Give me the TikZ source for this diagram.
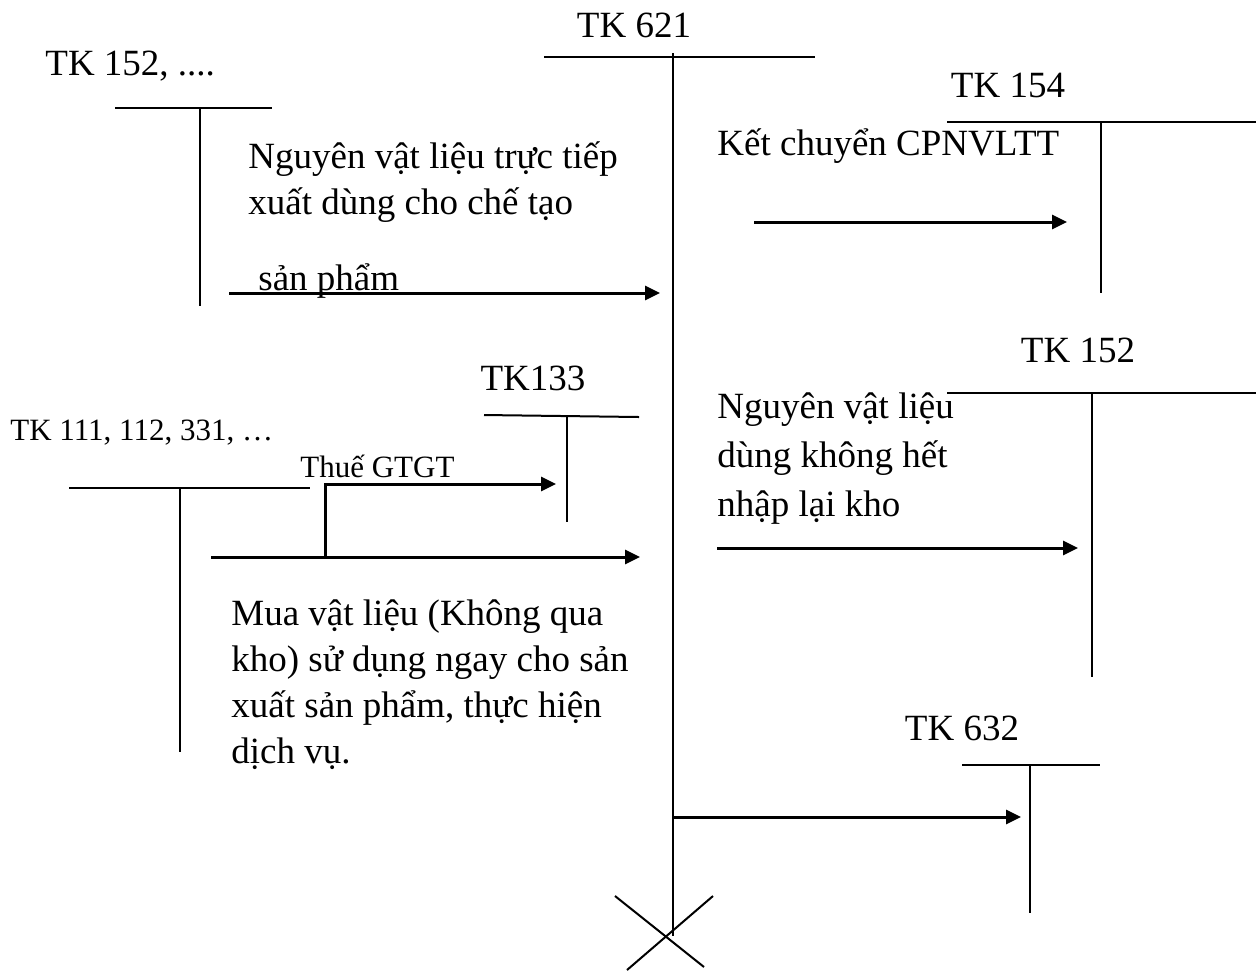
\documentclass[tikz,border=0pt]{standalone}
\usepackage{fontspec}
\setmainfont{Liberation Serif}
\usetikzlibrary{arrows.meta,positioning}

\begin{document}
\begin{tikzpicture}[x=0.5pt, y=-0.5pt,
    acc/.style={font=\fontsize{18.5}{23}\selectfont, inner sep=0pt, anchor=base},
    txt/.style={font=\fontsize{18.5}{23}\selectfont, inner sep=0pt, anchor=base west, align=left},
    small/.style={font=\fontsize{15.5}{19}\selectfont, inner sep=0pt, anchor=base west},
    tline/.style={line width=1pt},
    flow/.style={line width=1.5pt, -{Triangle[length=7.5pt, width=7pt]}}]
    \useasboundingbox (0,0) rectangle (1256,970);

    % TK 621
    \node (tk621) [acc] at (634,37) {TK 621};
    \coordinate (tk621l) at (544,57);
    \coordinate (tk621r) at (815,57);
    \coordinate (tk621t) at (673,53);
    \coordinate (tk621b) at (673,936);
    \coordinate (cross) at (666,936);
    \draw[tline] (tk621l) -- (tk621r);
    \draw[tline] (tk621t) -- (tk621b);
    \draw[tline] (cross) +(-51,-40) -- +(38,31);
    \draw[tline] (cross) +(47,-40) -- +(-39,34);

    % TK 152, ....
    \node (tk152a) [txt] at (45,75) {TK 152, ....};
    \coordinate (tk152al) at (115,108);
    \coordinate (tk152ar) at (272,108);
    \coordinate (tk152at) at (200,108);
    \coordinate (tk152ab) at (200,306);
    \draw[tline] (tk152al) -- (tk152ar);
    \draw[tline] (tk152at) -- (tk152ab);

    % TK 154
    \node (tk154) [acc] at (1008,97) {TK 154};
    \coordinate (tk154l) at (947,122);
    \coordinate (tk154r) at (1256,122);
    \coordinate (tk154t) at (1101,122);
    \coordinate (tk154b) at (1101,293);
    \draw[tline] (tk154l) -- (tk154r);
    \draw[tline] (tk154t) -- (tk154b);

    % TK 152
    \node (tk152b) [acc] at (1078,362) {TK 152};
    \coordinate (tk152bl) at (947,393);
    \coordinate (tk152br) at (1256,393);
    \coordinate (tk152bt) at (1092,393);
    \coordinate (tk152bb) at (1092,677);
    \draw[tline] (tk152bl) -- (tk152br);
    \draw[tline] (tk152bt) -- (tk152bb);

    % TK133
    \node (tk133) [acc] at (533,390) {TK133};
    \coordinate (tk133l) at (484,415);
    \coordinate (tk133r) at (639,417);
    \coordinate (tk133t) at (567,415);
    \coordinate (tk133b) at (567,522);
    \draw[tline] (tk133l) -- (tk133r);
    \draw[tline] (tk133t) -- (tk133b);

    % TK 111, 112, 331, ...
    \node (tk111) [small] at (10,440) {TK 111, 112, 331, …};
    \coordinate (tk111l) at (69,488);
    \coordinate (tk111r) at (310,488);
    \coordinate (tk111t) at (180,488);
    \coordinate (tk111b) at (180,752);
    \draw[tline] (tk111l) -- (tk111r);
    \draw[tline] (tk111t) -- (tk111b);

    % TK 632
    \node (tk632) [acc] at (962,740) {TK 632};
    \coordinate (tk632l) at (962,765);
    \coordinate (tk632r) at (1100,765);
    \coordinate (tk632t) at (1030,765);
    \coordinate (tk632b) at (1030,913);
    \draw[tline] (tk632l) -- (tk632r);
    \draw[tline] (tk632t) -- (tk632b);

    % labels (base = last line)
    \node (nvl) [txt] at (248,290) {Nguyên vật liệu trực tiếp\\xuất dùng cho chế tạo\\[15pt]\hspace{5pt}sản phẩm};
    \node (kc) [txt] at (717,155) {Kết chuyển CPNVLTT};
    \node (nhap) [txt, font=\fontsize{18.5}{24.5}\selectfont] at (717,516) {Nguyên vật liệu\\dùng không hết\\nhập lại kho};
    \node (vat) [small] at (300,477) {Thuế GTGT};
    \node (mua) [txt] at (231,763) {Mua vật liệu (Không qua\\kho) sử dụng ngay cho sản\\xuất sản phẩm, thực hiện\\dịch vụ.};

    % arrows
    \coordinate (nvls) at (229,293);
    \coordinate (kcs) at (754,222);
    \coordinate (nhaps) at (717,548);
    \coordinate (muas) at (211,557);
    \coordinate (vats) at (325,557);
    \coordinate (vatup) at (325,484);
    \coordinate (gvs) at (673,817);
    \draw[flow] (nvls) -- ([xshift=-6.5pt]nvls -| tk621t);
    \draw[flow] (kcs) -- ([xshift=-17pt]kcs -| tk154t);
    \draw[flow] (nhaps) -- ([xshift=-7pt]nhaps -| tk152bt);
    \draw[flow] (muas) -- ([xshift=-16.5pt]muas -| tk621t);
    \draw[flow] (vats) -- (vatup) -- ([xshift=-5.5pt]vatup -| tk133t);
    \draw[flow] (gvs) -- ([xshift=-4.5pt]gvs -| tk632t);
\end{tikzpicture}
\end{document}
